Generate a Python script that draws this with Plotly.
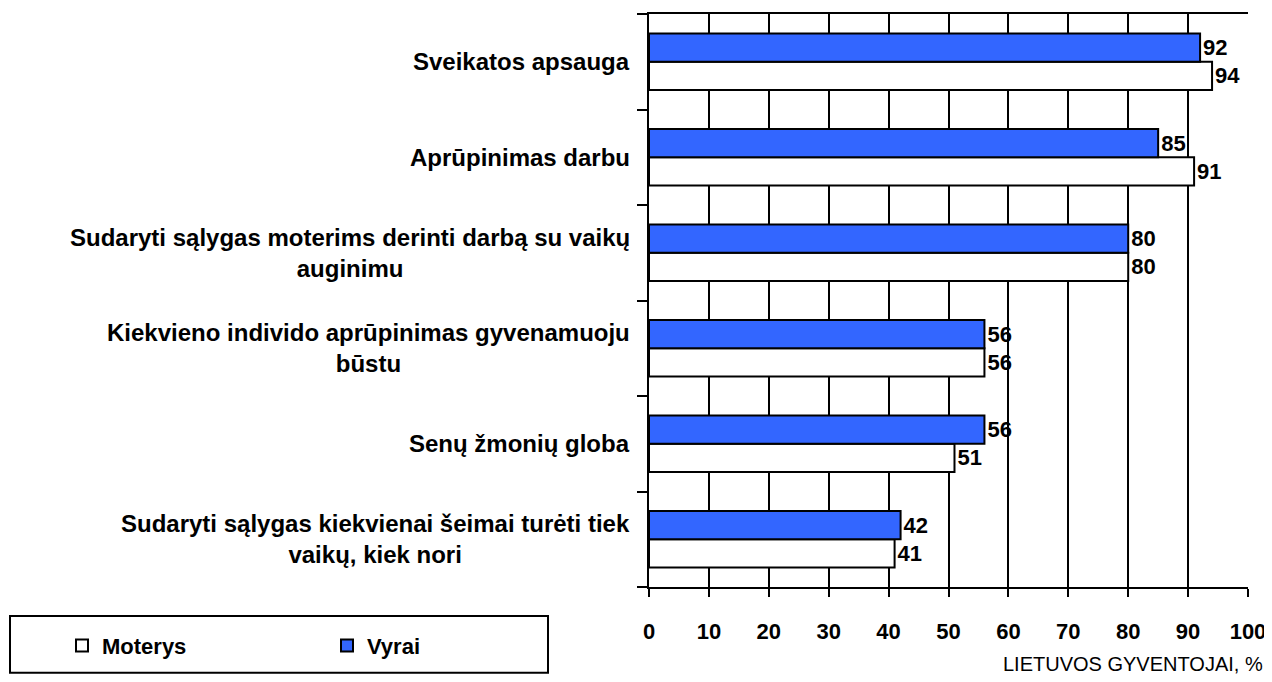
import plotly.graph_objects as go

categories = [
    "Sveikatos apsauga",
    "Aprūpinimas darbu",
    "Sudaryti sąlygas moterims derinti darbą su vaikų<br>auginimu",
    "Kiekvieno individo aprūpinimas gyvenamuoju<br>būstu",
    "Senų žmonių globa",
    "Sudaryti sąlygas kiekvienai šeimai turėti tiek<br>vaikų, kiek nori",
]
vyrai = [92, 85, 80, 56, 56, 42]
moterys = [94, 91, 80, 56, 51, 41]
x_ticks = [0, 10, 20, 30, 40, 50, 60, 70, 80, 90, 100]
axis_title = "LIETUVOS GYVENTOJAI, %"

FONT = "Liberation Sans, Arial, sans-serif"
OFF = 8  # page body margin in the browser
W, H = 1272 - OFF, 682 - 2 * OFF
# plot area in reference (screen) pixels
PL, PR, PT, PB = 649, 1248, 12, 587
ML, MR, MT, MB = PL - OFF, W - (PR - OFF), PT - OFF, H - (PB - OFF)
PW, PH = PR - PL, PB - PT


def px_x(p):
    return (p - PL) / PW


def px_y(p):
    return (PB - p) / PH


fig = go.Figure()
fig.add_trace(go.Bar(
    name="Moterys", y=categories, x=moterys, orientation="h",
    marker=dict(color="white", line=dict(color="black", width=2)),
    text=moterys, textposition="outside", constraintext="none", cliponaxis=False,
    textfont=dict(family=FONT, size=22, color="black", weight="bold"),
))
fig.add_trace(go.Bar(
    name="Vyrai", y=categories, x=vyrai, orientation="h",
    marker=dict(color="#3366FF", line=dict(color="black", width=2)),
    text=vyrai, textposition="outside", constraintext="none", cliponaxis=False,
    textfont=dict(family=FONT, size=22, color="black", weight="bold"),
))

for c in categories:
    fig.add_annotation(
        text=c, x=px_x(632), xref="paper", y=c, yref="y",
        xanchor="right", yanchor="middle", align="center", showarrow=False,
        font=dict(family=FONT, size=24, color="black", weight="bold"),
    )

fig.add_annotation(
    text=axis_title, x=px_x(1265), xref="paper", y=px_y(664), yref="paper",
    xanchor="right", yanchor="middle", showarrow=False,
    font=dict(family=FONT, size=20, color="black"),
)

fig.add_shape(
    type="rect", xref="paper", yref="paper",
    x0=px_x(10), x1=px_x(548), y0=px_y(673), y1=px_y(616),
    line=dict(color="black", width=2), fillcolor="white", layer="below",
)

fig.update_layout(
    width=W, height=H,
    margin=dict(l=ML, r=MR, t=MT, b=MB),
    plot_bgcolor="white", paper_bgcolor="white",
    barmode="group", bargap=0.41, bargroupgap=0,
    font=dict(family=FONT, color="black"),
    showlegend=True,
    legend=dict(
        orientation="h", x=px_x(62), y=px_y(646), xanchor="left", yanchor="middle",
        xref="paper", yref="paper", entrywidth=220, entrywidthmode="pixels",
        traceorder="normal", bgcolor="rgba(0,0,0,0)",
        font=dict(family=FONT, size=22, color="black", weight="bold"),
    ),
    xaxis=dict(
        range=[0, 100], tickvals=x_ticks, showgrid=True, gridcolor="black", gridwidth=2,
        showline=True, linecolor="black", linewidth=2, mirror=True,
        ticks="outside", ticklen=8, tickwidth=2, tickcolor="black",
        ticklabelstandoff=16, zeroline=False, ticklabeloverflow="allow",
        tickfont=dict(family=FONT, size=22, color="black", weight="bold"),
    ),
    yaxis=dict(
        type="category", categoryorder="array", categoryarray=list(reversed(categories)),
        showticklabels=False, showgrid=False, showline=True, linecolor="black", linewidth=2,
        ticks="outside", tickson="boundaries", ticklen=10, tickwidth=2, tickcolor="black",
    ),
)

fig.write_html("out.html")
